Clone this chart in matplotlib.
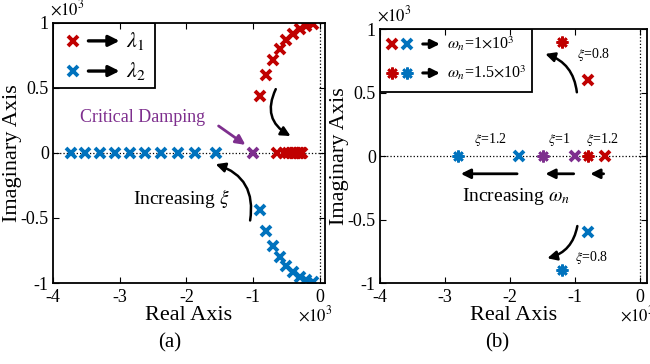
import matplotlib
matplotlib.use('Agg')
import matplotlib.pyplot as plt
from matplotlib.ticker import FuncFormatter
from matplotlib.patches import FancyArrowPatch, Rectangle

plt.rcParams['font.family'] = ['Liberation Serif', 'DejaVu Serif']
plt.rcParams['mathtext.fontset'] = 'stix'
plt.rcParams['axes.unicode_minus'] = False

RED = '#C00000'
BLUE = '#0072BD'
PURPLE = '#7E2F8E'

# (a) poles for wn = 1e3 while xi sweeps (values in 1e3)
under_real = [-0.90, -0.80, -0.70, -0.60, -0.50, -0.40, -0.30, -0.20, -0.10]
under_imag = [0.436, 0.600, 0.714, 0.800, 0.866, 0.917, 0.954, 0.980, 0.995]
lam2_under_imag = [-0.436, -0.600, -0.714, -0.800, -0.866, -0.917, -0.954, -0.980, -0.995]
lam1_over = [-0.642, -0.537, -0.469, -0.420, -0.382, -0.351, -0.325, -0.303, -0.284, -0.268]
lam2_over = [-1.558, -1.863, -2.131, -2.380, -2.618, -2.849, -3.075, -3.297, -3.516, -3.732]
crit_real = [-1.0]

# (b) poles for two natural frequencies
wn1_red = ([-0.8, -0.537], [0.6, 0.0])
wn1_blue = ([-0.8, -1.863], [-0.6, 0.0])
wn1_purple = ([-1.0], [0.0])
wn15_red = ([-1.2, -0.805], [0.9, 0.0])
wn15_blue = ([-1.2, -2.795], [-0.9, 0.0])
wn15_purple = ([-1.5], [0.0])

xticks = [-4, -3, -2, -1, 0]
yticks = [-1, -0.5, 0, 0.5, 1]

fig = plt.figure(figsize=(6.5, 3.64), dpi=100)
axa = fig.add_axes([0.0815, 0.2225, 0.4185, 0.7145])
axb = fig.add_axes([0.5846, 0.2225, 0.4104, 0.6978])

fmt = FuncFormatter(lambda v, p: '%g' % v)
for ax, xr in ((axa, 0.08), (axb, 0.1)):
    ax.set_xlim(-4, xr)
    ax.set_ylim(-1, 1)
    ax.set_xticks(xticks)
    ax.set_yticks(yticks)
    ax.xaxis.set_major_formatter(fmt)
    ax.yaxis.set_major_formatter(fmt)
    ax.tick_params(direction='in', top=True, right=True, labelsize=13, length=4)
    ax.tick_params(axis='x', pad=4)
    ax.tick_params(axis='y', pad=3)
    for s in ax.spines.values():
        s.set_linewidth(1.3)
    ax.axhline(0, color='k', ls=':', lw=0.9, zorder=0)
    ax.axvline(0, color='k', ls=':', lw=0.9, zorder=0)
    ax.set_xlabel('Real Axis', fontsize=16, labelpad=0)
    ax.set_ylabel('Imaginary Axis', fontsize=16, labelpad=-1)
    ax.text(-0.01, 1.015, r'$\times10^3$', transform=ax.transAxes, fontsize=12, ha='left', va='bottom')
    ax.text(0.90, -0.085, r'$\times10^3$', transform=ax.transAxes, fontsize=12, ha='left', va='top', clip_on=False)

xkw = dict(marker='x', ls='none', ms=7.5, mew=2.8)
skw = dict(marker=(8, 2, 0), ls='none', ms=8.5, mew=1.9)

# panel (a)
axa.plot(under_real, under_imag, color=RED, **xkw)
axa.plot(under_real, lam2_under_imag, color=BLUE, **xkw)
axa.plot(lam1_over, [0] * len(lam1_over), color=RED, **xkw)
axa.plot(lam2_over, [0] * len(lam2_over), color=BLUE, **xkw)
axa.plot(crit_real, [0], color=PURPLE, **xkw)

axa.text(-3.6, 0.27, 'Critical Damping', color=PURPLE, fontsize=13, va='center')
axa.annotate('', xy=(-1.08, 0.05), xytext=(-1.55, 0.22),
             arrowprops=dict(arrowstyle='-|>', color=PURPLE, lw=2, mutation_scale=14))
axa.add_patch(FancyArrowPatch((-0.64, 0.51), (-0.40, 0.12), connectionstyle='arc3,rad=0.5',
                              arrowstyle='-|>', color='k', lw=1.8, mutation_scale=14))
axa.add_patch(FancyArrowPatch((-1.05, -0.54), (-1.60, -0.08), connectionstyle='arc3,rad=0.45',
                              arrowstyle='-|>', color='k', lw=1.8, mutation_scale=14))
axa.text(-2.07, -0.35, r'Increasing $\xi$', fontsize=14, ha='center', va='center')

# legend (a)
axa.add_patch(Rectangle((0, 0.75), 0.375, 0.25, transform=axa.transAxes, fill=False, lw=1.3, ec='k'))
for yy, c, lab in ((0.931, RED, r'$\lambda_1$'), (0.815, BLUE, r'$\lambda_2$')):
    axa.plot([0.074], [yy], color=c, transform=axa.transAxes, **xkw)
    axa.annotate('', xy=(0.255, yy), xytext=(0.12, yy), xycoords='axes fraction',
                 arrowprops=dict(arrowstyle='-|>', color='k', lw=2.4, mutation_scale=16))
    axa.text(0.27, yy, lab, transform=axa.transAxes, fontsize=16, va='center')

# panel (b)
axb.plot(*wn1_red, color=RED, **xkw)
axb.plot(*wn1_blue, color=BLUE, **xkw)
axb.plot(*wn1_purple, color=PURPLE, **xkw)
axb.plot(*wn15_red, color=RED, **skw)
axb.plot(*wn15_blue, color=BLUE, **skw)
axb.plot(*wn15_purple, color=PURPLE, **skw)

axb.add_patch(FancyArrowPatch((-0.97, 0.48), (-1.50, 0.81), connectionstyle='arc3,rad=0.35',
                              arrowstyle='-|>', color='k', lw=1.8, mutation_scale=14))
axb.add_patch(FancyArrowPatch((-0.96, -0.53), (-1.47, -0.81), connectionstyle='arc3,rad=-0.35',
                              arrowstyle='-|>', color='k', lw=1.8, mutation_scale=14))
axb.text(-0.97, 0.80, r'$\xi$=0.8', fontsize=10, va='center')
axb.text(-1.0, -0.80, r'$\xi$=0.8', fontsize=10, va='center')
axb.text(-2.31, 0.13, r'$\xi$=1.2', fontsize=10, ha='center', va='center')
axb.text(-1.25, 0.13, r'$\xi$=1', fontsize=10, ha='center', va='center')
axb.text(-0.58, 0.13, r'$\xi$=1.2', fontsize=10, ha='center', va='center')
for x0, x1 in ((-1.85, -2.80), (-0.98, -1.50), (-0.52, -0.81)):
    axb.annotate('', xy=(x1, -0.14), xytext=(x0, -0.14),
                 arrowprops=dict(arrowstyle='-|>', color='k', lw=2, mutation_scale=14))
axb.text(-1.91, -0.32, r'Increasing $\omega_n$', fontsize=14, ha='center', va='center')

# legend (b)
axb.add_patch(Rectangle((0, 0.752), 0.569, 0.248, transform=axb.transAxes, fill=False, lw=1.3, ec='k'))
for yy, kw, lab in ((0.941, xkw, r'$\omega_n$=1$\times$10$^3$'), (0.827, skw, r'$\omega_n$=1.5$\times$10$^3$')):
    axb.plot([0.045], [yy], color=RED, transform=axb.transAxes, **kw)
    axb.plot([0.101], [yy], color=BLUE, transform=axb.transAxes, **kw)
    axb.annotate('', xy=(0.235, yy), xytext=(0.15, yy), xycoords='axes fraction',
                 arrowprops=dict(arrowstyle='-|>', color='k', lw=2.2, mutation_scale=13))
    axb.text(0.25, yy, lab, transform=axb.transAxes, fontsize=11.5, va='center')

fig.text(170 / 650, 1 - 343 / 364, '(a)', fontsize=15, ha='center', va='center')
fig.text(497 / 650, 1 - 343 / 364, '(b)', fontsize=15, ha='center', va='center')

fig.savefig('out.png', dpi=100)
